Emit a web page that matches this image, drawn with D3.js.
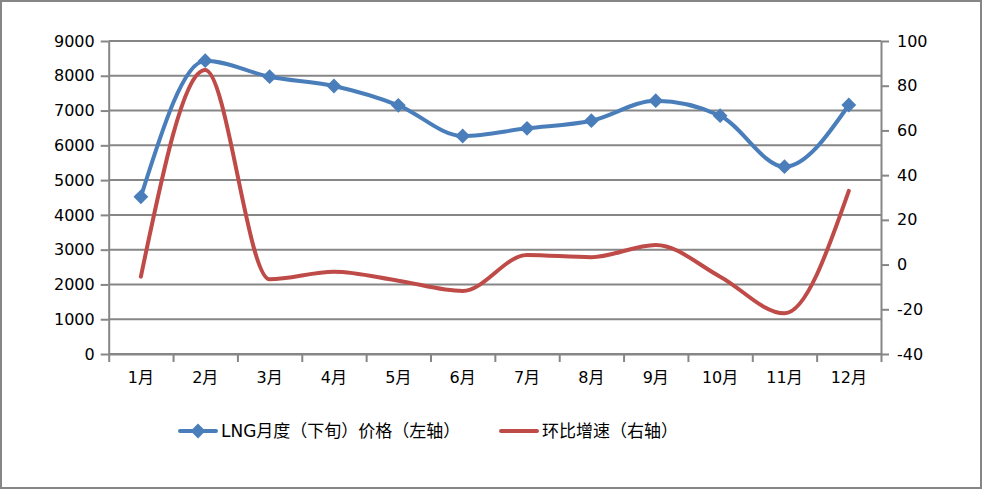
<!DOCTYPE html>
<html>
<head>
<meta charset="utf-8">
<script src="https://cdn.jsdelivr.net/npm/d3@7"></script>
<style>
  body { margin: 0; background: #fff; }
  text { font-family: "DejaVu Sans", "Noto Sans CJK SC", sans-serif; fill: #000; }
</style>
</head>
<body>
<div id="chart-area"></div>
<script>
// Data
var months = ["1月", "2月", "3月", "4月", "5月", "6月", "7月", "8月", "9月", "10月", "11月", "12月"];
var lngPrice = [4520, 8434, 7974, 7706, 7151, 6268, 6490, 6708, 7284, 6852, 5386, 7160];
var momGrowth = [-5.4, 87, -6.6, -3.2, -7.2, -11.8, 4.3, 3.3, 8.8, -5.4, -21.8, 33];
var leftTicks = [0, 1000, 2000, 3000, 4000, 5000, 6000, 7000, 8000, 9000];
var rightTicks = [-40, -20, 0, 20, 40, 60, 80, 100];
var seriesNames = ["LNG月度（下旬）价格（左轴）", "环比增速（右轴）"];

var W = 983, H = 490;
var margin = { left: 108.7, right: 102, top: 41, bottom: 136 },
    width = W - margin.left - margin.right,
    height = H - margin.top - margin.bottom;

var blue = "#4A7EBB", red = "#BE4B48", grid = "#868686";

var svg = d3.select("#chart-area")
    .append("svg")
    .attr("width", W)
    .attr("height", H);

// Outer frame
svg.append("rect")
    .attr("x", 1).attr("y", 1)
    .attr("width", W - 3).attr("height", H - 3)
    .attr("fill", "#fff")
    .attr("stroke", grid)
    .attr("stroke-width", 2);

var g = svg.append("g")
    .attr("transform", "translate(" + margin.left + "," + margin.top + ")");

// Scales
var x = d3.scaleBand().domain(months).range([0, width]);
var xEdge = d3.scaleLinear().domain([0, months.length]).range([0, width]);
var yL = d3.scaleLinear().domain([0, 9000]).range([height, 0]);
var yR = d3.scaleLinear().domain([-40, 100]).range([height, 0]);

var plain = function(d){ return String(d); };

// Gridlines
g.append("g")
    .selectAll("line")
    .data(leftTicks)
    .enter().append("line")
    .attr("x1", 0).attr("x2", width)
    .attr("y1", function(d){ return yL(d); })
    .attr("y2", function(d){ return yL(d); })
    .attr("stroke", grid)
    .attr("stroke-width", 2);

// Left axis
var yAxisL = g.append("g")
    .call(d3.axisLeft(yL).tickValues(leftTicks).tickFormat(plain)
        .tickSizeInner(8).tickSizeOuter(0).tickPadding(6));

// Right axis
var yAxisR = g.append("g")
    .attr("transform", "translate(" + width + ",0)")
    .call(d3.axisRight(yR).tickValues(rightTicks).tickFormat(plain)
        .tickSizeInner(8).tickSizeOuter(0).tickPadding(8));

// X axis: tick marks at band edges, labels at band centres
var xTicks = g.append("g")
    .attr("transform", "translate(0," + height + ")")
    .call(d3.axisBottom(xEdge).tickValues(d3.range(months.length + 1))
        .tickSizeInner(8).tickSizeOuter(0).tickFormat(""));

var xLabels = g.append("g")
    .attr("transform", "translate(0," + height + ")")
    .call(d3.axisBottom(x).tickSize(0).tickPadding(18));
xLabels.select(".domain").remove();

[yAxisL, yAxisR, xTicks].forEach(function(a){
    a.selectAll(".domain, line").attr("stroke", grid).attr("stroke-width", 2);
});
g.selectAll(".tick text").attr("font-size", "16px").attr("font-family", null);

// Lines
var lineL = d3.line()
    .curve(d3.curveMonotoneX)
    .x(function(d, i){ return x(months[i]) + x.bandwidth() / 2; })
    .y(function(d){ return yL(d); });

var lineR = d3.line()
    .curve(d3.curveMonotoneX)
    .x(function(d, i){ return x(months[i]) + x.bandwidth() / 2; })
    .y(function(d){ return yR(d); });

g.append("path")
    .attr("d", lineR(momGrowth))
    .attr("fill", "none")
    .attr("stroke", red)
    .attr("stroke-width", 4)
    .attr("stroke-linecap", "round");

g.append("path")
    .attr("d", lineL(lngPrice))
    .attr("fill", "none")
    .attr("stroke", blue)
    .attr("stroke-width", 4)
    .attr("stroke-linecap", "round");

var diamond = d3.symbol().type(d3.symbolDiamond2).size(140);

g.selectAll(".marker")
    .data(lngPrice)
    .enter().append("path")
    .attr("class", "marker")
    .attr("transform", function(d, i){
        return "translate(" + (x(months[i]) + x.bandwidth() / 2) + "," + yL(d) + ")";
    })
    .attr("d", diamond)
    .attr("fill", blue);

// Legend
var legend = svg.append("g").attr("transform", "translate(0,431)");
var legendX = [180, 501];
var legendColors = [blue, red];

seriesNames.forEach(function(name, i){
    var lg = legend.append("g").attr("transform", "translate(" + legendX[i] + ",0)");
    lg.append("line")
        .attr("x1", 0).attr("x2", 36)
        .attr("stroke", legendColors[i])
        .attr("stroke-width", 4)
        .attr("stroke-linecap", "round");
    if (i === 0) {
        lg.append("path")
            .attr("transform", "translate(18,0)")
            .attr("d", diamond)
            .attr("fill", blue);
    }
    lg.append("text")
        .attr("x", 41)
        .attr("dy", "0.35em")
        .attr("font-size", "17px")
        .text(name);
});
</script>
</body>
</html>
